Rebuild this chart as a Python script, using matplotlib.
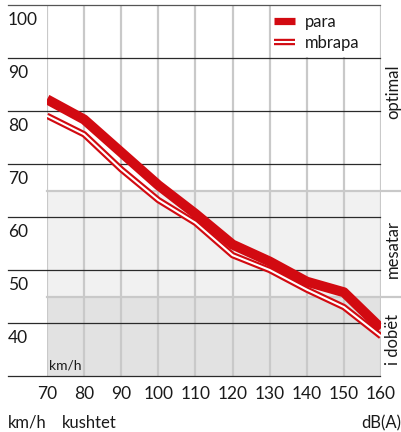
import matplotlib
matplotlib.use("Agg")
import matplotlib.pyplot as plt
from matplotlib.lines import Line2D
from matplotlib.patches import Rectangle
from matplotlib.legend_handler import HandlerTuple
import matplotlib.transforms as mtransforms

plt.rcParams['font.family'] = ['Lato', 'DejaVu Sans']
FW = 'normal'

speeds = [70, 80, 90, 100, 110, 120, 130, 140, 150, 160]
para = [82.2, 78.4, 72.2, 66.0, 60.6, 54.8, 51.6, 47.8, 45.8, 39.0]
mbrapa = [79.1, 75.6, 69.0, 63.2, 58.9, 52.8, 50.0, 46.3, 43.0, 37.5]
y_labels = [100, 90, 80, 70, 60, 50, 40]
bands = [("optimal", 65, 100, "white"), ("mesatar", 45, 65, "#f1f1f1"), ("i dobët", 30, 45, "#e2e2e2")]
band_label_y = [83.6, 54.0, 36.8]

RED = "#d20a11"
TXT = "#1a1a1a"
W, H = 402, 432
fig = plt.figure(figsize=(W / 100, H / 100), dpi=100)
ax = fig.add_axes([47 / W, (H - 376) / H, 334 / W, 371 / H])
ax.set_xlim(70, 160)
ax.set_ylim(30, 100)
for s in ax.spines.values():
    s.set_visible(False)
ax.set_yticks([])
ax.set_xticks(speeds)
ax.set_xticklabels([str(s) for s in speeds], fontsize=12.5, fontweight=FW, color=TXT)
ax.tick_params(axis='x', length=0, pad=7)

# bands
for name, lo, hi, col in bands:
    ax.axhspan(lo, hi, color=col, zorder=0, lw=0)
# vertical grid
for s in speeds:
    ax.axvline(s, color="#c9c9c9", lw=1.6, zorder=1)
# band separators (extend to right edge)
for name, lo, hi, col in bands[1:]:
    ax.axhline(hi, xmin=0, xmax=(W - 47) / 334, color="#c9c9c9", lw=1.6, zorder=1, clip_on=False)

# legend background
ax.add_patch(Rectangle(((271 - 47) / 334, (376 - 57) / 371), (379 - 271) / 334, 51 / 371,
                       transform=ax.transAxes, facecolor="white", edgecolor="none", zorder=1.5))

# black horizontal lines
for v in y_labels[1:] + [30]:
    ax.axhline(v, xmin=(8 - 47) / 334, xmax=(380 - 47) / 334, color="#2a2a2a", lw=0.9, zorder=2, clip_on=False)
ax.axhline(100, xmin=(8 - 47) / 334, xmax=(380 - 47) / 334, color="#555", lw=0.9, zorder=2, clip_on=False)

# y labels below lines
trans = mtransforms.blended_transform_factory(fig.transFigure, ax.transData)
for v in y_labels:
    ax.text(8 / W, v - 3.75, str(v), transform=trans, fontsize=12.5, fontweight=FW,
            color=TXT, ha='left', va='baseline')

# lines
ax.plot(speeds, mbrapa, color=RED, lw=4.6, zorder=3, solid_capstyle='butt', solid_joinstyle='round')
ax.plot(speeds, mbrapa, color="white", lw=1.5, zorder=3.1, solid_capstyle='butt', solid_joinstyle='round')
ax.plot(speeds, para, color=RED, lw=7.2, zorder=4, solid_capstyle='butt', solid_joinstyle='round')

# legend
h_para = Line2D([], [], color=RED, lw=5.2, solid_capstyle='butt')
h_m1 = Line2D([], [], color=RED, lw=4.6, solid_capstyle='butt')
h_m2 = Line2D([], [], color="white", lw=1.5, solid_capstyle='butt')
leg = ax.legend([h_para, (h_m1, h_m2)], ["para", "mbrapa"],
                handler_map={tuple: HandlerTuple(ndivide=1, pad=0)},
                loc='upper left', bbox_to_anchor=((274 - 47) / 334, (376 - 14) / 371),
                frameon=False, fontsize=12, handlelength=1.25, handletextpad=0.6,
                labelspacing=0.3, borderpad=0, borderaxespad=0)
for t in leg.get_texts():
    t.set_fontweight(FW)
    t.set_color(TXT)
leg.set_zorder(5)

# right band labels
transr = mtransforms.blended_transform_factory(fig.transFigure, ax.transData)
for (name, lo, hi, col), yy in zip(bands, band_label_y):
    ax.text(393 / W, yy, name, transform=transr, rotation=90, fontsize=12, fontweight=FW,
            color=TXT, ha='center', va='center')

# inner unit label
ax.text(49 / W, 1 - 369 / H, "km/h", transform=fig.transFigure, fontsize=10, fontweight=FW,
        color=TXT, ha='left', va='baseline')

# bottom captions
fig.text(8 / W, 1 - 428 / H, "km/h", fontsize=12, fontweight=FW, color=TXT, ha='left', va='baseline')
fig.text(62 / W, 1 - 428 / H, "kushtet", fontsize=12, fontweight=FW, color=TXT, ha='left', va='baseline')
fig.text(401 / W, 1 - 428 / H, "dB(A)", fontsize=12, fontweight=FW, color=TXT, ha='right', va='baseline')

fig.savefig("out.png", dpi=100, facecolor="white")
